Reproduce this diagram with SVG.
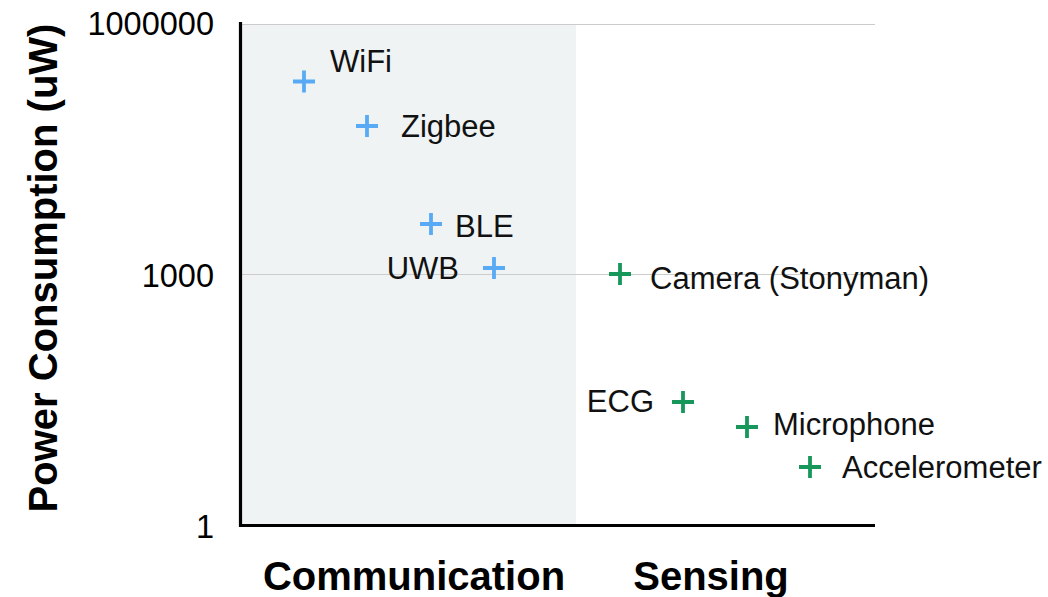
<svg xmlns="http://www.w3.org/2000/svg" width="1048" height="597" viewBox="0 0 1048 597">
  <defs>
    <style>
      .tick { font-family: "Liberation Sans", Arial, sans-serif; font-size: 32.5px; fill: #000; text-anchor: end; }
      .lbl { font-family: "Liberation Sans", Arial, sans-serif; font-size: 31px; fill: #111; }
      .cat { font-family: "Liberation Sans", Arial, sans-serif; font-size: 40px; font-weight: bold; fill: #000; text-anchor: middle; }
      .grid { stroke: #cccccc; stroke-width: 1.2; }
      .axis { stroke: #000; stroke-width: 3.2; fill: none; }
      .comm { stroke: #58aaf5; stroke-width: 3.8; }
      .sens { stroke: #17985a; stroke-width: 3.8; }
    </style>
    <path id="plus" d="M -11 0 H 11 M 0 -11 V 11"/>
  </defs>
  <rect width="1048" height="597" fill="#ffffff"/>

  <!-- category band -->
  <rect x="241" y="24" width="335" height="503" fill="#eff3f4"/>

  <!-- grid -->
  <g id="grid">
    <line class="grid" x1="241" y1="24.5" x2="875" y2="24.5"/>
    <line class="grid" x1="241" y1="274.5" x2="875" y2="274.5"/>
  </g>

  <!-- axes -->
  <g id="axes">
    <polyline class="axis" points="240.5,22 240.5,525.5 875,525.5"/>
  </g>

  <!-- tick labels -->
  <g id="ticks">
    <text class="tick" x="214" y="35">1000000</text>
    <text class="tick" x="214" y="287">1000</text>
    <text class="tick" x="214" y="538">1</text>
  </g>

  <!-- axis titles -->
  <text class="cat" transform="translate(57,268) rotate(-90)">Power Consumption (uW)</text>
  <text class="cat" x="414" y="590">Communication</text>
  <text class="cat" x="711" y="590">Sensing</text>

  <!-- communication points -->
  <g id="wifi">
    <use href="#plus" class="comm" x="304" y="81.5"/>
    <text class="lbl" x="330" y="72">WiFi</text>
  </g>
  <g id="zigbee">
    <use href="#plus" class="comm" x="367" y="126"/>
    <text class="lbl" x="401" y="137">Zigbee</text>
  </g>
  <g id="ble">
    <use href="#plus" class="comm" x="431" y="224"/>
    <text class="lbl" x="455" y="237">BLE</text>
  </g>
  <g id="uwb">
    <use href="#plus" class="comm" x="494" y="268"/>
    <text class="lbl" x="459" y="279" text-anchor="end">UWB</text>
  </g>

  <!-- sensing points -->
  <g id="camera">
    <use href="#plus" class="sens" x="620" y="274"/>
    <text class="lbl" x="650" y="289">Camera (Stonyman)</text>
  </g>
  <g id="ecg">
    <use href="#plus" class="sens" x="683" y="402"/>
    <text class="lbl" x="654" y="412" text-anchor="end">ECG</text>
  </g>
  <g id="microphone">
    <use href="#plus" class="sens" x="747" y="427"/>
    <text class="lbl" x="773" y="435">Microphone</text>
  </g>
  <g id="accelerometer">
    <use href="#plus" class="sens" x="810" y="467"/>
    <text class="lbl" x="842" y="478">Accelerometer</text>
  </g>
</svg>
